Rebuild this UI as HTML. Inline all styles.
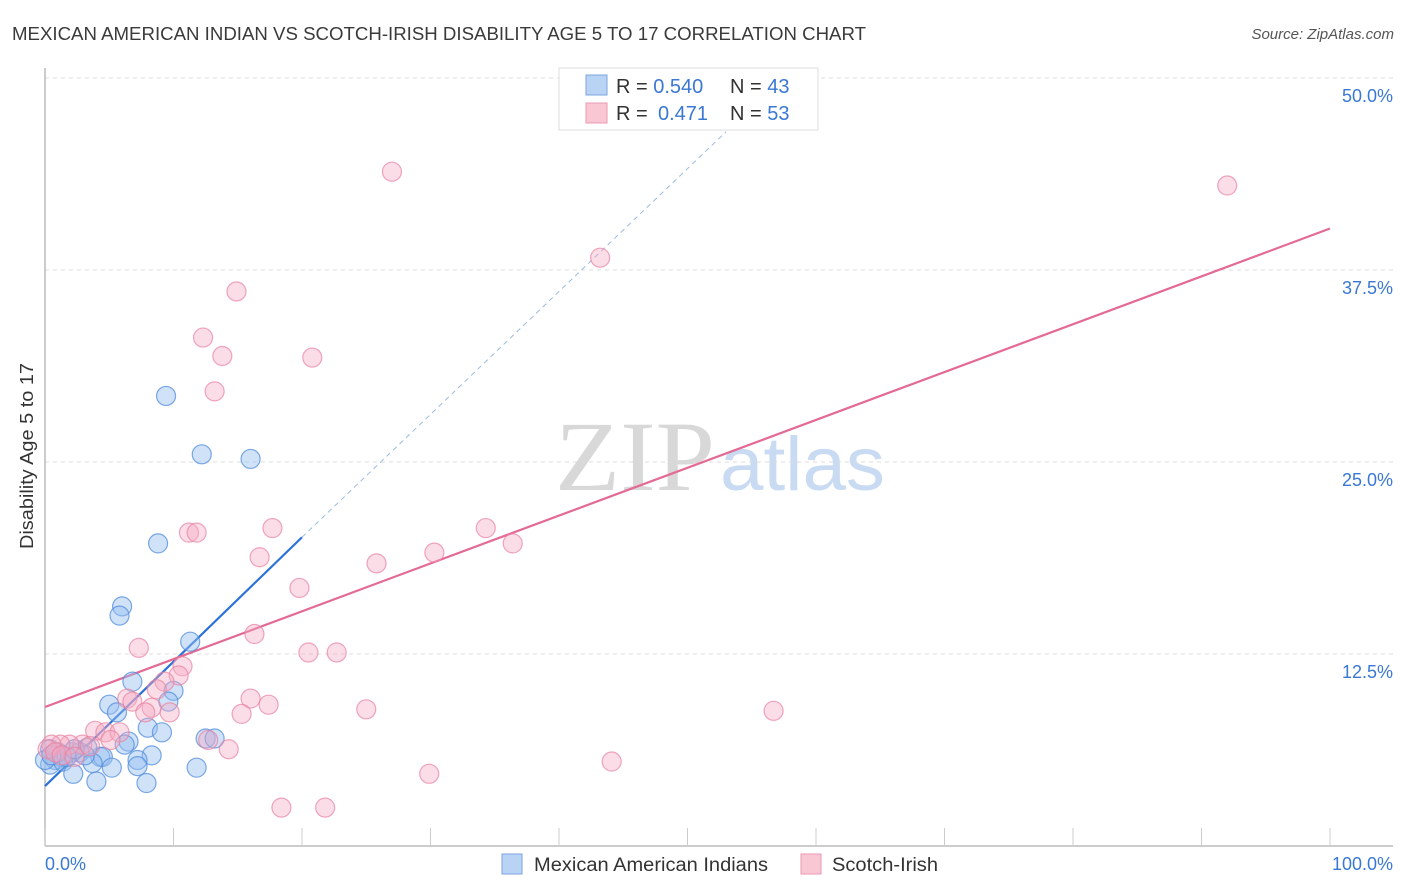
<!DOCTYPE html>
<html><head><meta charset="utf-8"><style>
body{margin:0;background:#fff;font-family:"Liberation Sans",sans-serif;}
svg{display:block}
</style></head><body>
<svg id="chart" width="1406" height="892" viewBox="0 0 1406 892" xmlns="http://www.w3.org/2000/svg" font-family="Liberation Sans, sans-serif">
<text x="12" y="40" font-size="18" fill="#3a3a3a" textLength="854" lengthAdjust="spacingAndGlyphs">MEXICAN AMERICAN INDIAN VS SCOTCH-IRISH DISABILITY AGE 5 TO 17 CORRELATION CHART</text>
<text x="1394" y="39" font-size="15" fill="#555" font-style="italic" text-anchor="end">Source: ZipAtlas.com</text>
<text transform="translate(33,456) rotate(-90)" font-size="18" fill="#333" text-anchor="middle" textLength="186" lengthAdjust="spacingAndGlyphs">Disability Age 5 to 17</text>
<g id="watermark">
<text x="555" y="490" font-size="100" fill="#d8d8d8" font-family="Liberation Serif, serif" textLength="160" lengthAdjust="spacingAndGlyphs">ZIP</text>
<text x="720" y="490" font-size="76" fill="#c8dbf2" textLength="165" lengthAdjust="spacingAndGlyphs">atlas</text>
</g>
<g id="grid"></g>
<g id="axes"></g>
<g id="lines"></g>
<g id="points"></g>
<g>
<rect x="559" y="68" width="259" height="62" fill="#fff" stroke="#ddd"/>
<rect x="586" y="75" width="21" height="20" fill="#b8d3f3" stroke="#7aa6e0"/>
<rect x="586" y="103" width="21" height="20" fill="#f9c6d4" stroke="#ec9ab3"/>
<text x="616" y="93" font-size="20" fill="#333">R = <tspan fill="#3a78d4">0.540</tspan><tspan x="730">N = </tspan><tspan fill="#3a78d4">43</tspan></text>
<text x="616" y="120" font-size="20" fill="#333">R = <tspan x="658" fill="#3a78d4">0.471</tspan><tspan x="730">N = </tspan><tspan fill="#3a78d4">53</tspan></text>
</g>
<g>
<rect x="502" y="854" width="20" height="20" fill="#b8d3f3" stroke="#7aa6e0"/>
<text x="534" y="871" font-size="19" fill="#333" textLength="234" lengthAdjust="spacingAndGlyphs">Mexican American Indians</text>
<rect x="801" y="854" width="20" height="20" fill="#f9c6d4" stroke="#ec9ab3"/>
<text x="832" y="871" font-size="19" fill="#333" textLength="106" lengthAdjust="spacingAndGlyphs">Scotch-Irish</text>
</g>
</svg>
<script>
const xTicks=[0,10,20,30,40,50,60,70,80,90,100];
const yTicks=[12.5,25,37.5,50];
const yTickLabels=["12.5%","25.0%","37.5%","50.0%"];
const blueX=[9.42,12.2,16.0,8.8,6.0,5.8,11.3,6.8,10.0,9.6,5.0,5.6,8.0,9.1,12.5,13.2,6.5,6.2,8.3,7.2,4.3,4.5,3.3,2.7,2.1,1.2,0.8,0.4,1.4,3.7,5.2,7.2,11.8,2.2,4.0,7.9,0.4,1.0,1.7,3.1,0,0.5,2.3];
const blueY=[29.3,25.5,25.2,19.7,15.6,15.0,13.3,10.7,10.1,9.4,9.2,8.7,7.7,7.4,7.0,7.0,6.8,6.6,5.9,5.6,5.8,5.8,6.4,6.1,6.1,5.8,5.6,5.3,5.5,5.4,5.1,5.2,5.1,4.7,4.2,4.1,6.3,6.1,5.8,5.9,5.6,5.9,6.3];
const pinkX=[27.0,92.0,43.2,14.9,12.3,13.8,20.8,13.2,17.7,11.2,11.8,34.3,36.4,30.3,25.8,16.7,19.8,16.3,7.3,20.5,22.7,10.7,10.4,9.3,8.7,6.4,6.8,16.0,17.4,25.0,56.7,8.3,9.7,7.8,15.3,3.9,4.7,5.8,5.1,12.7,14.3,2.9,1.9,1.2,0.5,0.2,0.8,1.3,2.3,29.9,44.1,18.4,21.8,3.5];
const pinkY=[43.9,43.0,38.3,36.1,33.1,31.9,31.8,29.6,20.7,20.4,20.4,20.7,19.7,19.1,18.4,18.8,16.8,13.8,12.9,12.6,12.6,11.7,11.1,10.7,10.2,9.6,9.4,9.6,9.2,8.9,8.8,9.0,8.7,8.7,8.6,7.5,7.4,7.4,6.9,6.9,6.3,6.6,6.6,6.6,6.6,6.3,6.1,5.9,5.8,4.7,5.5,2.5,2.5,6.5];
const blueTrend=[[0,3.9],[20,20.1],[53,46.5]];
const pinkTrend=[[0,9.05],[100,40.2]];

const NS="http://www.w3.org/2000/svg";
const X=v=>45+v*12.85;
const Y=v=>846-v*15.36;
function mk(tag,attrs,parent){const e=document.createElementNS(NS,tag);for(const k in attrs)e.setAttribute(k,attrs[k]);document.getElementById(parent).appendChild(e);return e;}

yTicks.forEach((t,i)=>{
  const g=mk('line',{x1:45,x2:1393,y1:Y(t),y2:Y(t),stroke:'#dcdcdc','stroke-dasharray':'4,4'},'grid');
  
  
  const l=mk('text',{x:1393,y:Y(t)+24,'font-size':18,fill:'#3a78d4','text-anchor':'end'},'grid');
  l.textContent=yTickLabels[i];
  
  
});
const ax=mk('line',{x1:45,x2:1393,y1:846,y2:846,stroke:'#bbb','stroke-width':1.5},'axes');


const ay=mk('line',{x1:45,x2:45,y1:68,y2:846,stroke:'#bbb','stroke-width':1.5},'axes');


xTicks.forEach(t=>{
  const k=mk('line',{x1:X(t),x2:X(t),y1:828,y2:846,stroke:'#ccc'},'axes');
  
  
});
const xl0=mk('text',{x:45,y:870,'font-size':18,fill:'#3a78d4'},'axes');xl0.textContent='0.0%';


const xl1=mk('text',{x:1393,y:870,'font-size':18,fill:'#3a78d4','text-anchor':'end'},'axes');xl1.textContent='100.0%';



blueX.forEach((v,i)=>{
  const c=mk('circle',{cx:X(v),cy:Y(blueY[i]),r:9.5,fill:'rgba(150,190,240,0.45)',stroke:'rgba(80,140,220,0.75)','stroke-width':1.2},'points');
  
  
});
pinkX.forEach((v,i)=>{
  const c=mk('circle',{cx:X(v),cy:Y(pinkY[i]),r:9.5,fill:'rgba(245,170,195,0.4)',stroke:'rgba(232,130,160,0.7)','stroke-width':1.2},'points');
  
  
});
const bl=mk('line',{x1:X(blueTrend[0][0]),y1:Y(blueTrend[0][1]),x2:X(blueTrend[1][0]),y2:Y(blueTrend[1][1]),stroke:'#2a72d8','stroke-width':2.2},'lines');


const bd=mk('line',{x1:X(blueTrend[1][0]),y1:Y(blueTrend[1][1]),x2:X(blueTrend[2][0]),y2:Y(blueTrend[2][1]),stroke:'#9bbbe0','stroke-width':1,'stroke-dasharray':'5,4'},'lines');


const pl=mk('line',{x1:X(pinkTrend[0][0]),y1:Y(pinkTrend[0][1]),x2:X(pinkTrend[1][0]),y2:Y(pinkTrend[1][1]),stroke:'#e46a93','stroke-width':2.2},'lines');


</script>
</body></html>
